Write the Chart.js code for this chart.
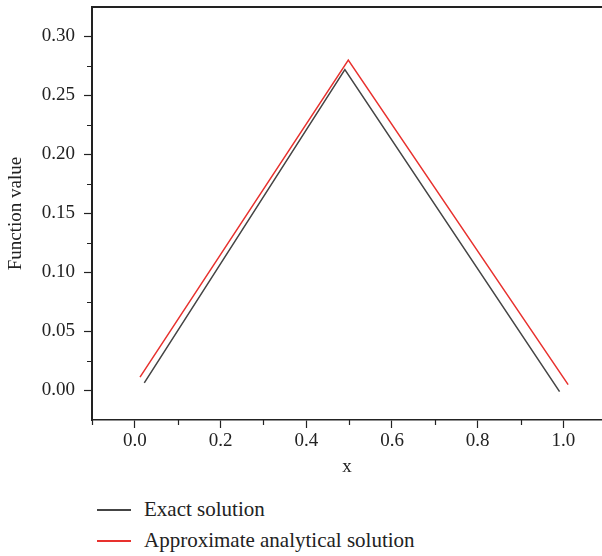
<!DOCTYPE html>
<html>
<head>
<meta charset="utf-8">
<script src="https://cdn.jsdelivr.net/npm/chart.js@4/dist/chart.umd.min.js"></script>
<style>
  html, body { margin: 0; padding: 0; background: #fff; }
  #wrap { position: relative; width: 602px; height: 556px; overflow: hidden; }
  #c { position: absolute; left: 0; top: 0; }
  #legend { position: absolute; left: 97px; top: 494px; font-family: "Liberation Serif", "DejaVu Serif", serif; font-size: 21px; color: #222; }
  .item { display: flex; align-items: center; height: 31px; }
  .swatch { display: inline-block; width: 34px; height: 2px; margin-right: 13px; }
</style>
</head>
<body>
<div id="wrap">
  <canvas id="c" width="602" height="490"></canvas>
  <div id="legend"></div>
</div>
<script>
// ---- data ----
const seriesNames = ["Exact solution", "Approximate analytical solution"];
const seriesColors = ["#444444", "#e8312e"];
const exactX = [0.022, 0.490, 0.991];
const exactY = [0.0065, 0.272, -0.001];
const approxX = [0.012, 0.498, 1.011];
const approxY = [0.0113, 0.280, 0.005];
const xMajorTicks = [0.0, 0.2, 0.4, 0.6, 0.8, 1.0];
const xMinorTicks = [-0.1, 0.1, 0.3, 0.5, 0.7, 0.9];
const yMajorTicks = [0.00, 0.05, 0.10, 0.15, 0.20, 0.25, 0.30];
const yMinorTicks = [0.025, 0.075, 0.125, 0.175, 0.225, 0.275];

const toPts = (xs, ys) => xs.map((x, i) => ({ x: x, y: ys[i] }));
const FONT = "'Liberation Serif', 'DejaVu Serif', serif";
const AX = '#222';

const minorTicks = {
  id: 'minorTicks',
  afterDraw(chart) {
    const ctx = chart.ctx;
    const xs = chart.scales.x, ys = chart.scales.y;
    const a = chart.chartArea;
    ctx.save();
    ctx.strokeStyle = AX;
    ctx.lineWidth = 1.2;
    ctx.beginPath();
    xMinorTicks.forEach(v => {
      const px = Math.round(xs.getPixelForValue(v)) + 0.5;
      ctx.moveTo(px, a.bottom);
      ctx.lineTo(px, a.bottom + 5);
    });
    yMinorTicks.forEach(v => {
      const py = Math.round(ys.getPixelForValue(v)) + 0.5;
      ctx.moveTo(a.left, py);
      ctx.lineTo(a.left - 5, py);
    });
    ctx.stroke();
    ctx.restore();
  }
};

new Chart(document.getElementById('c'), {
  type: 'scatter',
  data: {
    datasets: [
      { label: seriesNames[0], data: toPts(exactX, exactY), borderColor: seriesColors[0], backgroundColor: seriesColors[0], showLine: true, pointRadius: 0, borderWidth: 1.5, tension: 0 },
      { label: seriesNames[1], data: toPts(approxX, approxY), borderColor: seriesColors[1], backgroundColor: seriesColors[1], showLine: true, pointRadius: 0, borderWidth: 1.5, tension: 0 }
    ]
  },
  options: {
    responsive: false,
    animation: false,
    layout: { padding: { top: 7, right: 0, bottom: 0, left: 0 } },
    plugins: { legend: { display: false }, tooltip: { enabled: false } },
    scales: {
      x: {
        type: 'linear', position: 'bottom', min: -0.1, max: 1.09,
        afterBuildTicks: s => { s.ticks = xMajorTicks.map(v => ({ value: v })); },
        afterFit: s => { s.height = 70; s.paddingLeft = 0; s.paddingRight = 0; },
        grid: { display: true, drawOnChartArea: false, drawTicks: true, tickLength: 8, color: AX, tickWidth: 1.2 },
        border: { display: true, color: AX, width: 1.5 },
        ticks: { color: AX, font: { family: FONT, size: 19 }, padding: 2, maxRotation: 0, callback: v => v.toFixed(1) },
        title: { display: true, text: 'x', color: AX, font: { family: FONT, size: 19 }, padding: { top: 0, bottom: 12 } }
      },
      xTop: {
        type: 'linear', position: 'top', min: -0.1, max: 1.09,
        afterFit: s => { s.height = 0; },
        grid: { display: false, drawTicks: false },
        border: { display: true, color: AX, width: 2 },
        ticks: { display: false }
      },
      y: {
        type: 'linear', position: 'left', min: -0.025, max: 0.325,
        afterBuildTicks: s => { s.ticks = yMajorTicks.map(v => ({ value: v })); },
        afterFit: s => { s.width = 92; s.paddingTop = 0; s.paddingBottom = 0; },
        grid: { display: true, drawOnChartArea: false, drawTicks: true, tickLength: 8, color: AX, tickWidth: 1.2 },
        border: { display: true, color: AX, width: 2 },
        ticks: { color: AX, font: { family: FONT, size: 19 }, padding: 9, callback: v => v.toFixed(2) },
        title: { display: true, text: 'Function value', color: AX, font: { family: FONT, size: 19 }, padding: { top: 5, bottom: 0 } }
      }
    }
  },
  plugins: [minorTicks]
});

const lg = document.getElementById('legend');
seriesNames.forEach((n, i) => {
  const it = document.createElement('div');
  it.className = 'item';
  const sw = document.createElement('span');
  sw.className = 'swatch';
  sw.style.backgroundColor = seriesColors[i];
  const tx = document.createElement('span');
  tx.textContent = n;
  it.appendChild(sw); it.appendChild(tx);
  lg.appendChild(it);
});
</script>
</body>
</html>
